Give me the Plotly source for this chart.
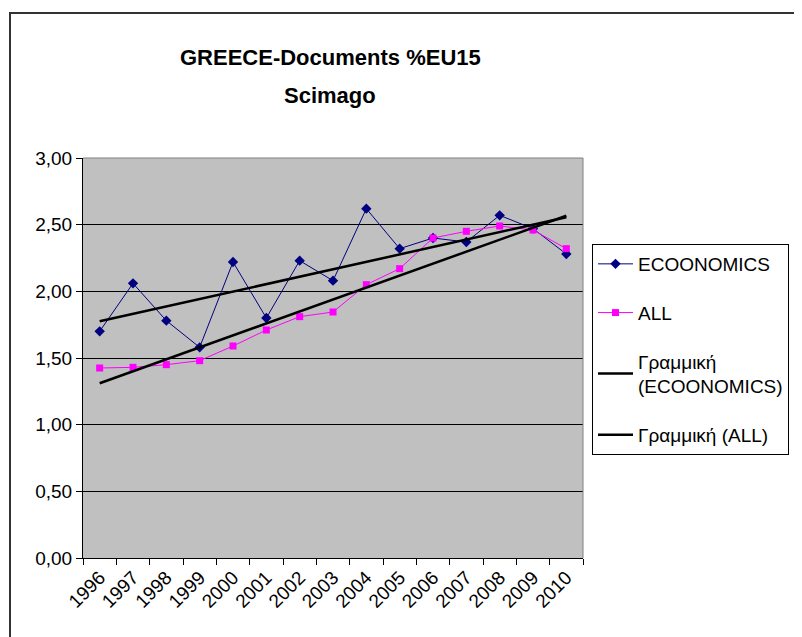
import numpy as np
import plotly.graph_objects as go

years = ["1996", "1997", "1998", "1999", "2000", "2001", "2002", "2003",
         "2004", "2005", "2006", "2007", "2008", "2009", "2010"]
economics = [1.70, 2.06, 1.78, 1.58, 2.22, 1.80, 2.23, 2.08,
             2.62, 2.32, 2.40, 2.37, 2.57, 2.47, 2.28]
all_docs = [1.425, 1.43, 1.45, 1.48, 1.59, 1.71, 1.81, 1.845,
            2.05, 2.17, 2.40, 2.45, 2.49, 2.46, 2.32]
y_ticks = [0, 0.5, 1.0, 1.5, 2.0, 2.5, 3.0]
title_lines = ["GREECE-Documents %EU15", "Scimago"]

idx = np.arange(len(years))
trend_e = np.polyval(np.polyfit(idx, economics, 1), idx)
trend_a = np.polyval(np.polyfit(idx, all_docs, 1), idx)

FONT = "Liberation Sans, Arial, sans-serif"

fig = go.Figure()
fig.add_trace(go.Scatter(
    x=years, y=economics, name="ECOONOMICS", mode="lines+markers",
    line=dict(color="#000080", width=1),
    marker=dict(symbol="diamond", size=8, color="#000080"),
    legendgroup="a"))
fig.add_trace(go.Scatter(
    x=years, y=all_docs, name="ALL", mode="lines+markers",
    line=dict(color="#FF00FF", width=1),
    marker=dict(symbol="square", size=7, color="#FF00FF"),
    legendgroup="b"))
fig.add_trace(go.Scatter(
    x=years, y=trend_e, name="Γραμμική<br>(ECOONOMICS)", mode="lines",
    line=dict(color="black", width=2.5), legendgroup="c"))
fig.add_trace(go.Scatter(
    x=years, y=trend_a, name="Γραμμική (ALL)", mode="lines",
    line=dict(color="black", width=2.5), legendgroup="d"))

fig.update_layout(
    width=802, height=637,
    margin=dict(l=75, r=227, t=150, b=87),
    paper_bgcolor="white",
    plot_bgcolor="#C0C0C0",
    separators=",.",
    font=dict(family=FONT, size=20, color="black"),
    legend=dict(x=1.018, y=0.785, xanchor="left", yanchor="top",
                bgcolor="white", bordercolor="black", borderwidth=1,
                font=dict(family=FONT, size=19), tracegroupgap=21,
                itemwidth=35),
    showlegend=True,
)
# title as two lines (wider line spacing than Plotly's title allows)
for line_text, ypx in zip(title_lines, [57, 95]):
    fig.add_annotation(text="<b>%s</b>" % line_text, xref="paper", yref="paper",
                       x=0.494, y=(558 - ypx) / 400, xanchor="center",
                       yanchor="middle", showarrow=False,
                       font=dict(family=FONT, size=22, color="black"))

fig.update_xaxes(
    type="category", showgrid=False, showline=True, linecolor="black",
    linewidth=1, ticks="outside", ticklen=6, tickcolor="black",
    tickson="boundaries", tickangle=-45, tickfont=dict(size=19),
    range=[-0.5, len(years) - 0.5])
fig.update_yaxes(
    range=[0, 3], tickvals=y_ticks, tickformat=".2f",
    showgrid=True, gridcolor="black", gridwidth=1,
    showline=True, linecolor="black", linewidth=1,
    ticks="outside", ticklen=6, tickcolor="black",
    tickfont=dict(size=19), zeroline=False)

# plot area top/right border (gray)
fig.add_shape(type="line", xref="paper", yref="paper", x0=0, x1=1, y0=1, y1=1,
              line=dict(color="#808080", width=1))
fig.add_shape(type="line", xref="paper", yref="paper", x0=1, x1=1, y0=0, y1=1,
              line=dict(color="#808080", width=1))
# outer chart frame
fig.add_shape(type="rect", xref="paper", yref="paper",
              x0=(10 - 83) / 500, x1=1.5, y0=-0.3, y1=(558 - 13) / 400,
              line=dict(color="#333333", width=2))

fig.write_html("out.html")
